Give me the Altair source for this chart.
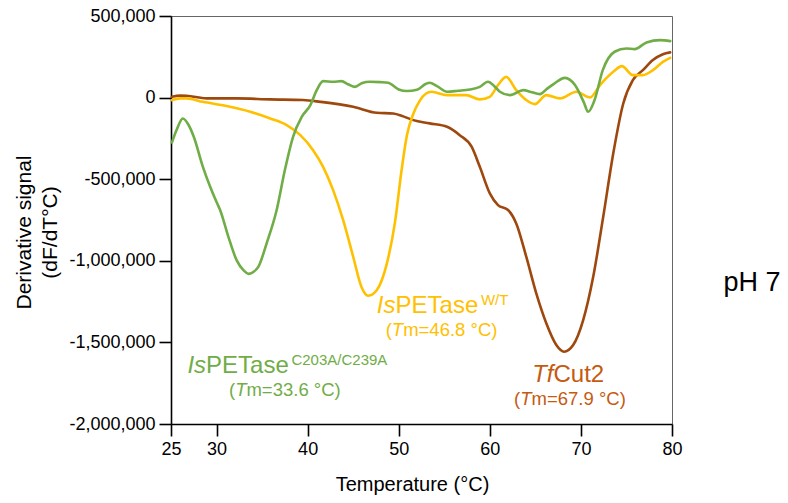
import altair as alt
import pandas as pd

# ---------------- data ----------------
green_T = [25.1, 25.6, 26.3, 26.9, 27.5, 28.5, 29.3, 30.0, 30.4, 31.3, 32.2, 33.0, 33.5, 34.0,
           34.6, 35.5, 36.6, 37.5, 38.4, 39.35, 40.3, 41.0, 41.7, 42.8, 43.7, 44.5, 45.2, 46.0,
           46.8, 48.0, 48.85, 50.0, 50.9, 52.0, 53.0, 53.4, 54.2, 55.3, 56.5, 57.8, 58.9, 59.8,
           60.5, 61.1, 62.2, 63.7, 64.5, 65.5, 66.3, 67.0, 68.25, 69.35, 70.3, 70.8, 71.5, 72.4,
           73.7, 75.0, 75.9, 77.2, 78.7, 79.8]
green_v = [-275, -200, -128, -165, -240, -424, -546, -640, -690, -853, -996, -1060, -1080, -1070,
           -1036, -893, -689, -444, -240, -118, -46, 46, 101, 97, 101, 80, 66, 90,
           97, 95, 91, 50, 40, 48, 85, 91, 70, 36, 42, 50, 66, 97,
           70, 36, 15, 46, 35, 21, 55, 83, 121, 77, -26, -87, -15, 168,
           281, 301, 297, 338, 352, 346]

yellow_T = [25.1, 26.0, 26.7, 28.5, 31.1, 33.7, 35.9, 37.7, 39.2, 40.6, 41.7, 42.8, 43.9, 45.0,
            45.9, 46.65, 47.6, 48.7, 49.6, 50.3, 50.9, 51.6, 52.3, 53.0, 53.6, 55.3, 57.4, 58.9,
            60.0, 60.9, 61.8, 62.9, 64.0, 64.95, 66.2, 67.7, 69.5, 71.0, 72.1, 73.55, 74.5, 75.7,
            76.8, 77.9, 79.0, 79.8]
yellow_v = [-15, -5, -5, -26, -52, -87, -128, -168, -230, -322, -424, -567, -751, -975,
            -1159, -1214, -1179, -1016, -760, -450, -230, -100, -20, 25, 36, 15, 15, -11,
            5, 77, 127, 46, -15, -40, 15, -5, 36, 1, 77, 158, 193, 138,
            138, 168, 219, 244]

brown_T = [25.1, 26.0, 26.7, 28.9, 32.2, 35.9, 39.5, 41.4, 45.0, 47.6, 49.4, 50.5, 51.6, 53.4,
           55.3, 56.7, 58.0, 58.9, 60.0, 60.9, 62.0, 62.9, 64.0, 65.1, 66.2, 67.3, 68.15, 69.15,
           70.25, 71.35, 72.45, 73.55, 74.65, 75.7, 76.8, 77.9, 79.0, 79.8]
brown_v = [5, 12, 11, -5, -5, -11, -15, -26, -56, -93, -97, -115, -138, -158,
           -179, -230, -301, -424, -587, -659, -689, -771, -975, -1200, -1383, -1516, -1557, -1516,
           -1363, -1098, -730, -342, -36, 107, 168, 230, 266, 277]

x_ticks = [25, 30, 40, 50, 60, 70, 80]
y_ticks = [-2000000, -1500000, -1000000, -500000, 0, 500000]

GREEN = "#70AD47"
YELLOW = "#FFC000"
BROWN_LINE = "#9E480E"
BROWN_TEXT = "#C55A11"
FONT = "Liberation Sans"

X = alt.X("T:Q", scale=alt.Scale(domain=[25, 80], nice=False, zero=False),
          axis=alt.Axis(values=x_ticks, title="Temperature (°C)", titleX=241, titleY=66,
                        titleBaseline="alphabetic", titleAlign="center", labelFlush=False))
Y = alt.Y("v:Q", scale=alt.Scale(domain=[-2000000, 500000], nice=False),
          axis=alt.Axis(values=y_ticks, title=["Derivative signal", "(dF/dT°C)"],
                        labelExpr="(datum.value < 0 ? '-' : '') + format(abs(datum.value), ',')",
                        labelFlush=False,
                        titleAngle=270, titleX=-147, titleY=216, titleAlign="center",
                        titleBaseline="middle", titleLineHeight=26, titleFontSize=21))


def series(Ts, vs, color):
    df = pd.DataFrame({"T": Ts, "v": [k * 1000 for k in vs]})
    return alt.Chart(df).mark_line(color=color, strokeWidth=2.6, interpolate="monotone",
                                   strokeCap="round", strokeJoin="round").encode(x=X, y=Y)


# Arial / Liberation Sans advance widths (1/1000 em)
W = {" ": 278, "(": 333, ")": 333, ".": 278, "/": 278, "=": 584, "°": 400,
     "A": 667, "C": 722, "E": 667, "I": 278, "P": 667, "T": 611, "W": 944,
     "a": 556, "e": 556, "f": 278, "m": 833, "s": 500, "t": 278, "u": 556}


def tw(s, size):
    return sum(W.get(c, 556) for c in s) / 1000.0 * size


def label(T, v, segments, color, center=False):
    total = sum(tw(t, sz) for t, it, sz, dy in segments)
    off = -total / 2 if center else 0.0
    df = pd.DataFrame({"T": [T], "v": [v]})
    layers = []
    for t, it, sz, dy in segments:
        layers.append(alt.Chart(df).mark_text(
            text=t, align="left", baseline="alphabetic", dx=off, dy=dy, fontSize=sz,
            fontStyle="italic" if it else "normal", font=FONT, color=color
        ).encode(x=X, y=Y))
        off += tw(t, sz)
    return layers


F1, F2, FS = 24, 18.5, 15

ann = []
ann += label(26.8, -1690000, [("Is", True, F1, 0), ("PETase", False, F1, 0),
                              ("C203A/C239A", False, FS, -8)], GREEN)
ann += label(37.5, -1828000, [("(", False, F2, 0), ("T", True, F2, 0),
                              ("m=33.6 °C)", False, F2, 0)], GREEN, center=True)
ann += label(47.6, -1320000, [("Is", True, F1, 0), ("PETase", False, F1, 0),
                              ("W/T", False, FS, -8)], YELLOW)
ann += label(54.7, -1461000, [("(", False, F2, 0), ("T", True, F2, 0),
                              ("m=46.8 °C)", False, F2, 0)], YELLOW, center=True)
ann += label(68.6, -1741000, [("Tf", True, F1, 0), ("Cut2", False, F1, 0)], BROWN_TEXT, center=True)
ann += label(68.8, -1884000, [("(", False, F2, 0), ("T", True, F2, 0),
                              ("m=67.9 °C)", False, F2, 0)], BROWN_TEXT, center=True)

ph = alt.Chart(pd.DataFrame({"t": ["pH 7"]})).mark_text(
    align="center", baseline="alphabetic", fontSize=27, font=FONT, color="black"
).encode(text="t:N", x=alt.value(581), y=alt.value(275))

chart = alt.layer(
    series(brown_T, brown_v, BROWN_LINE),
    series(yellow_T, yellow_v, YELLOW),
    series(green_T, green_v, GREEN),
    *ann, ph
).properties(
    width=501, height=408,
    autosize=alt.AutoSizeParams(type="none"),
    padding={"left": 163, "top": 8, "right": 108, "bottom": 71},
    background="white",
).configure_view(
    stroke="#666666", strokeWidth=1
).configure_axis(
    grid=False, domainColor="black", domainWidth=1.6, tickColor="black", tickWidth=1.6,
    tickSize=12, labelPadding=4, labelFont=FONT, labelFontSize=18, labelColor="black",
    titleFont=FONT, titleFontSize=20, titleFontWeight="normal", titleColor="black",
)

chart.save("out.html", embed_options={"renderer": "svg", "actions": False})
